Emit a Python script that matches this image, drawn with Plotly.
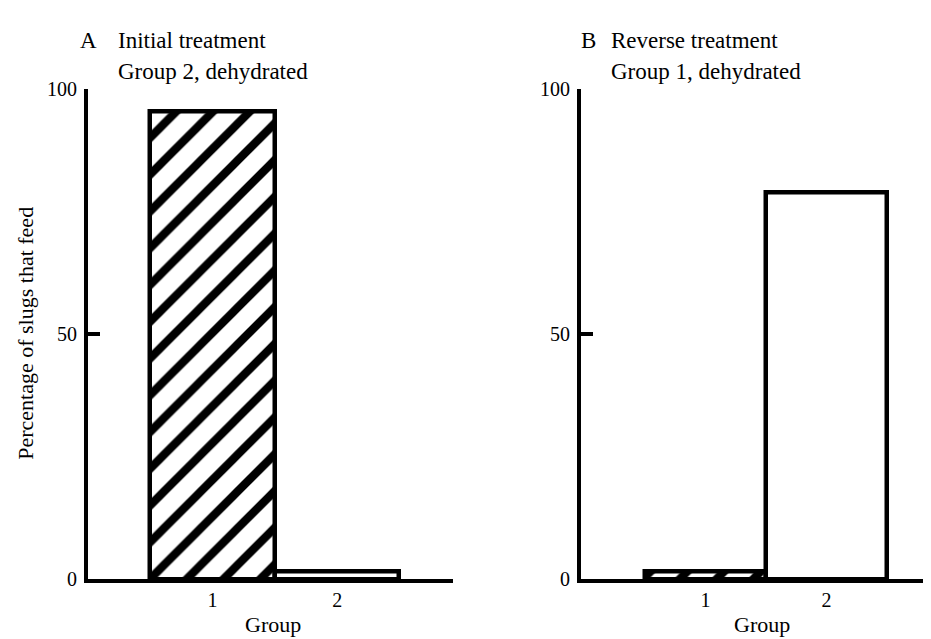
import plotly.graph_objects as go

groups = ["1", "2"]
group_pos = [1, 2]
initial_pct = [95.5, 1.5]     # Panel A: Initial treatment, group 2 dehydrated
reverse_pct = [1.5, 79]       # Panel B: Reverse treatment, group 1 dehydrated
y_ticks = [0, 50, 100]

FONT = "Liberation Serif"
W, H = 931, 639

def px_x(p):
    return p / W

def px_y(p):
    return 1 - p / H

def hatch():
    return dict(shape=["/", ""], fgcolor="black", bgcolor="white", fgopacity=1,
                size=26, solidity=0.32)

fig = go.Figure()
fig.add_trace(go.Bar(x=group_pos, y=initial_pct, width=1,
                     marker=dict(color="white", line=dict(color="black", width=4.5), pattern=hatch()),
                     xaxis="x", yaxis="y", showlegend=False))
fig.add_trace(go.Bar(x=group_pos, y=reverse_pct, width=1,
                     marker=dict(color="white", line=dict(color="black", width=4.5), pattern=hatch()),
                     xaxis="x2", yaxis="y2", showlegend=False))

ydom = [px_y(580), px_y(73)]
axis_common = dict(showline=True, linecolor="black", linewidth=4, showgrid=False, zeroline=False,
                   tickfont=dict(family=FONT, size=20, color="black"))

fig.update_layout(
    width=W, height=H,
    margin=dict(l=0, r=0, t=0, b=0),
    paper_bgcolor="white", plot_bgcolor="white",
    bargap=0,
    font=dict(family=FONT, size=20, color="black"),
    xaxis=dict(domain=[px_x(80), px_x(445)], range=[0, 2.93], tickvals=group_pos, ticktext=groups,
               ticks="", ticklabelstandoff=0, anchor="y", **axis_common),
    yaxis=dict(domain=ydom, range=[0, 100], tickvals=y_ticks, ticks="inside", ticklen=12, tickwidth=4,
               tickcolor="black", anchor="x", ticklabelstandoff=3, **axis_common),
    xaxis2=dict(domain=[px_x(573), 1.0], range=[-0.03, 2.93], tickvals=group_pos, ticktext=groups,
                ticks="", ticklabelstandoff=0, anchor="y2", **axis_common),
    yaxis2=dict(domain=ydom, range=[0, 100], tickvals=y_ticks, ticks="inside", ticklen=12, tickwidth=4,
                tickcolor="black", anchor="x2", ticklabelstandoff=3, **axis_common),
)

def ann(text, x, y, xanchor="left", angle=0, size=23):
    fig.add_annotation(text=text, x=x, y=y, xref="paper", yref="paper", xanchor=xanchor,
                       yanchor="middle", showarrow=False, textangle=angle,
                       font=dict(family=FONT, size=size, color="black"))

ann("A", px_x(70), px_y(22))
ann("Initial treatment", px_x(108), px_y(22))
ann("Group 2, dehydrated", px_x(108), px_y(54))
ann("B", px_x(571), px_y(22))
ann("Reverse treatment", px_x(601), px_y(22))
ann("Group 1, dehydrated", px_x(601), px_y(54))
ann("Group", px_x(265), px_y(627), xanchor="center", size=22)
ann("Group", px_x(754), px_y(627), xanchor="center", size=22)
ann("Percentage of slugs that feed", px_x(18), px_y(326), xanchor="center", angle=-90, size=22)

fig.write_html("out.html")
